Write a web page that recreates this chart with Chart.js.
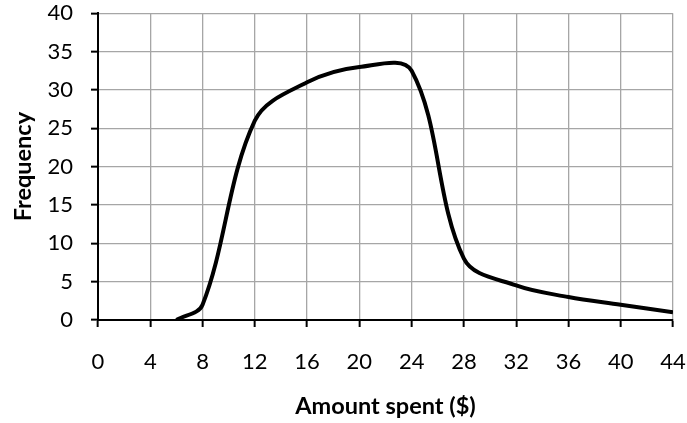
<!DOCTYPE html>
<html>
<head>
<meta charset="utf-8">
<script src="https://cdn.jsdelivr.net/npm/chart.js@4.4.0/dist/chart.umd.min.js"></script>
<style>
  html, body { margin: 0; padding: 0; background: #ffffff; }
  #wrap { width: 687px; height: 423px; }
</style>
</head>
<body>
<div id="wrap"><canvas id="c" width="687" height="423"></canvas></div>
<script>
// Data
const amountSpent = [6, 8, 12, 16, 20, 24, 28, 32, 36, 40, 44];
const frequency   = [0, 2, 26, 31, 33, 32.5, 8, 4.5, 3, 2, 1];

const xTitle = 'Amount spent ($)';
const yTitle = 'Frequency';
const xMin = 0, xMax = 44, xStep = 4;
const yMin = 0, yMax = 40, yStep = 5;

const points = amountSpent.map((x, i) => ({ x: x, y: frequency[i] }));

const FONT = 'Lato, "Open Sans", sans-serif';

new Chart(document.getElementById('c'), {
  type: 'scatter',
  data: {
    datasets: [{
      data: points,
      showLine: true,
      borderColor: '#000000',
      borderWidth: 4,
      pointRadius: 0,
      pointHoverRadius: 0,
      tension: 0.35,
      fill: false
    }]
  },
  options: {
    responsive: false,
    animation: false,
    devicePixelRatio: 1,
    layout: { padding: { top: 0, right: 0, bottom: 0, left: 0 } },
    plugins: { legend: { display: false }, tooltip: { enabled: false } },
    scales: {
      x: {
        type: 'linear',
        min: xMin, max: xMax,
        ticks: { stepSize: xStep, color: '#000', font: { family: FONT, size: 22 }, padding: 22, maxRotation: 0 },
        grid: { color: '#a6a6a6', lineWidth: 1.3, tickColor: '#000', tickWidth: 2, tickLength: 7 },
        border: { color: '#000', width: 2 },
        title: { display: true, text: xTitle, color: '#000', font: { family: FONT, size: 23.5, weight: 'bold' }, padding: { top: 0, bottom: 2 } },
        afterFit: (s) => { s.height = 103; s.paddingLeft = 0; s.paddingRight = 14; }
      },
      y: {
        type: 'linear',
        min: yMin, max: yMax,
        ticks: { stepSize: yStep, color: '#000', font: { family: FONT, size: 22 }, padding: 18 },
        grid: { color: '#a6a6a6', lineWidth: 1.3, tickColor: '#000', tickWidth: 2, tickLength: 7 },
        border: { color: '#000', width: 2 },
        title: { display: true, text: yTitle, color: '#000', font: { family: FONT, size: 23.5, weight: 'bold' }, padding: { top: 9, bottom: 0 } },
        afterFit: (s) => { s.width = 98; s.paddingTop = 13.3; s.paddingBottom = 0; }
      }
    }
  }
});
</script>
</body>
</html>
